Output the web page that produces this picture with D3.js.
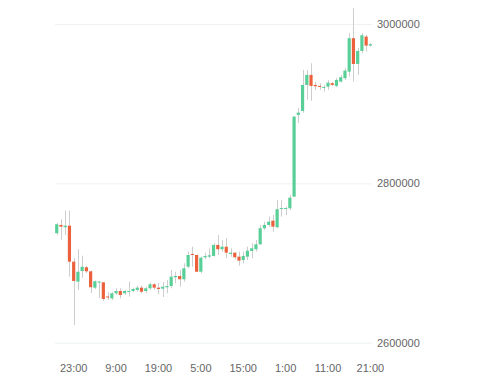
<!DOCTYPE html>
<html>
<head>
<meta charset="utf-8">
<script src="https://cdn.jsdelivr.net/npm/d3@7"></script>
<style>
  body { margin: 0; background: #fff; }
  text { font-family: "Liberation Sans", Arial, sans-serif; }
</style>
</head>
<body>
<svg id="chart" width="480" height="383"></svg>
<script>
// hourly candles, first one at 19:00
const startHour = new Date(2021, 0, 1, 19);
const tickLabels = ["23:00", "9:00", "19:00", "5:00", "15:00", "1:00", "11:00", "21:00"];
const yTicks = [2600000, 2800000, 3000000];

const open = [2737400, 2747800, 2744900, 2746900, 2701700, 2676600, 2690000, 2694700, 2689600, 2669100,
  2675800, 2675800, 2658000, 2655700, 2662000, 2664900, 2662000, 2664500, 2664900, 2666200,
  2669100, 2664900, 2668300, 2673300, 2669100, 2667800, 2669600, 2671200, 2682100, 2683700,
  2679600, 2695400, 2711400, 2710100, 2689100, 2707200, 2708000, 2708900, 2722700, 2717300,
  2720500, 2711400, 2713000, 2708000, 2703800, 2708000, 2715100, 2717300, 2723500, 2743600,
  2747800, 2753200, 2744900, 2768200, 2768200, 2768700, 2783300, 2885900, 2890900, 2923500,
  2936100, 2923500, 2922300, 2920700, 2921400, 2925700, 2922300, 2927700, 2932000, 2940200,
  2982200, 2949900, 2966200, 2984200, 2972900];
const close = [2748700, 2745600, 2746900, 2701700, 2677500, 2689100, 2695400, 2689600, 2669600, 2677100,
  2676800, 2654900, 2657000, 2662000, 2664900, 2659900, 2664900, 2664900, 2667400, 2669100,
  2664000, 2668300, 2673300, 2669100, 2667400, 2670300, 2671200, 2682900, 2683700, 2679600,
  2693400, 2710100, 2710100, 2689100, 2706700, 2708900, 2709700, 2722700, 2717300, 2720500,
  2713000, 2713000, 2707200, 2703000, 2708900, 2715500, 2718500, 2723500, 2743600, 2747800,
  2751900, 2745600, 2767500, 2769100, 2769100, 2782000, 2883700, 2888800, 2923500, 2936100,
  2922300, 2921900, 2921000, 2921000, 2926400, 2923500, 2929800, 2933200, 2941500, 2982200,
  2949900, 2966200, 2985900, 2972900, 2974600];
const high = [2750300, 2754900, 2765700, 2765700, 2706300, 2717300, 2709200, 2696300, 2690600, 2678100,
  2677500, 2676200, 2663300, 2663300, 2668300, 2668300, 2666200, 2676600, 2669100, 2671600,
  2671600, 2670300, 2675800, 2674600, 2674900, 2676200, 2678700, 2691300, 2689100, 2691300,
  2699700, 2714300, 2720500, 2710700, 2708000, 2713000, 2718500, 2724800, 2735200, 2728900,
  2731100, 2718500, 2713400, 2714300, 2714300, 2720500, 2724800, 2728900, 2747800, 2751900,
  2758200, 2760300, 2779200, 2779200, 2770700, 2785400, 2884600, 2894700, 2942400, 2942400,
  2950800, 2927700, 2925700, 2923500, 2929800, 2927300, 2932000, 2936100, 2944500, 2988500,
  3019800, 2970000, 2988500, 2986300, 2975900];
const low = [2735200, 2728900, 2735200, 2682900, 2622200, 2666200, 2681600, 2687500, 2662400, 2667400,
  2656100, 2652400, 2653600, 2653600, 2659900, 2655700, 2659900, 2657800, 2663300, 2664000,
  2662000, 2662000, 2666200, 2666200, 2661100, 2657400, 2662000, 2668300, 2674600, 2670300,
  2676600, 2693400, 2695400, 2688800, 2687100, 2704700, 2706000, 2708000, 2710100, 2714300,
  2706000, 2708000, 2704700, 2696700, 2699700, 2703800, 2706000, 2714300, 2722700, 2741500,
  2745600, 2739400, 2743600, 2758200, 2760300, 2766600, 2782900, 2875800, 2888400, 2904700,
  2903500, 2917300, 2917300, 2915100, 2917300, 2922300, 2920700, 2926400, 2929800, 2934000,
  2927700, 2936100, 2963300, 2965400, 2971600];

const upColor = "#58cf97";
const downColor = "#ec613c";
const wickColor = "#cdcdcd";

const times = open.map((_, i) => d3.timeHour.offset(startHour, i));
const candles = times.map((t, i) => ({ t, o: open[i], c: close[i], h: high[i], l: low[i] }));

const svg = d3.select("#chart");

const x = d3.scaleBand()
  .domain(times)
  .range([54.6, 372.5])
  .paddingInner(0.25)
  .paddingOuter(0.125);

const y = d3.scaleLinear()
  .domain([2600000, 3000000])
  .range([342.7, 24]);

// grid + right labels
const yAxis = svg.append("g")
  .attr("transform", "translate(372,0)")
  .call(d3.axisRight(y)
    .tickValues(yTicks)
    .tickSize(-317)
    .tickPadding(5)
    .tickFormat(d3.format("d")));
yAxis.select(".domain").remove();
yAxis.selectAll(".tick line").attr("stroke", "#eef2f2");
yAxis.selectAll(".tick text").attr("fill", "#666").attr("font-size", 11);

const tickTimes = times.filter((_, i) => i % 10 === 4);
const xAxis = svg.append("g")
  .attr("transform", "translate(0,360)")
  .call(d3.axisBottom(x)
    .tickValues(tickTimes)
    .tickSize(0)
    .tickPadding(4)
    .tickFormat((d, i) => tickLabels[i]));
xAxis.select(".domain").remove();
xAxis.selectAll(".tick text").attr("fill", "#666").attr("font-size", 11);

const cx = d => x(d.t) + x.bandwidth() / 2;

const g = svg.append("g");

g.selectAll("line.wick")
  .data(candles)
  .join("line")
  .attr("class", "wick")
  .attr("x1", d => Math.round(cx(d)) + 0.5)
  .attr("x2", d => Math.round(cx(d)) + 0.5)
  .attr("y1", d => y(d.h))
  .attr("y2", d => y(d.l))
  .attr("stroke", wickColor)
  .attr("stroke-width", 1);

g.selectAll("rect.body")
  .data(candles)
  .join("rect")
  .attr("class", "body")
  .attr("x", d => x(d.t))
  .attr("width", x.bandwidth())
  .attr("y", d => y(Math.max(d.o, d.c)))
  .attr("height", d => Math.max(1, Math.abs(y(d.o) - y(d.c))))
  .attr("fill", d => d.c >= d.o ? upColor : downColor);
</script>
</body>
</html>
